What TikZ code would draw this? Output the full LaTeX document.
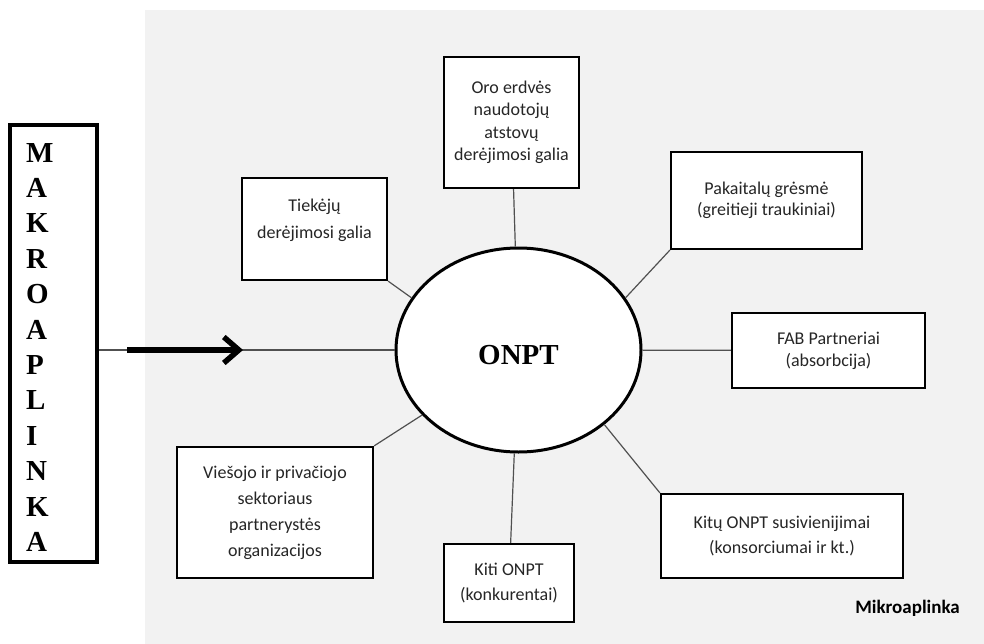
\documentclass[tikz,border=0pt]{standalone}
\usepackage{fontspec}
\newfontfamily\calibfont{Carlito}
\newfontfamily\timesfont{Liberation Serif}
\usetikzlibrary{arrows.meta,shapes.geometric}
\definecolor{bggray}{HTML}{F2F2F2}
\definecolor{linkgray}{HTML}{505050}
\definecolor{textgray}{HTML}{262626}

\begin{document}
\begin{tikzpicture}[x=1pt,y=-1pt,
  factor node/.style={draw,line width=2.2pt,fill=white,align=center,inner sep=0pt,text=textgray,font=\calibfont\fontsize{18}{#1}\selectfont},
  factor node/.default=25,
  center node/.style={ellipse,draw,line width=3pt,fill=white,minimum width=245pt,minimum height=204pt,inner sep=0pt,text height=30pt,font=\timesfont\bfseries\fontsize{29}{34}\selectfont},
  letters/.style={align=left,inner sep=0pt,font=\timesfont\bfseries\fontsize{29}{35.4}\selectfont},
  link/.style={draw=linkgray,line width=1.2pt}]

  \useasboundingbox (0,0) rectangle (984,644);
  \fill[bggray] (145,10) rectangle (984,644);

  \node[draw,line width=3.5pt,minimum width=87pt,minimum height=437pt] at (53.5,343.5) (makro) {};
  \node[letters,anchor=north west] at (26,143) (makrotxt) {M\\A\\K\\R\\O\\A\\P\\L\\I\\N\\K\\A};

  \node[center node] at (518.5,350) (onpt) {ONPT};

  \node[factor node=27,minimum width=145pt,minimum height=102pt] at (314.5,229) (tiek) {Tiekėjų\\derėjimosi galia\\[-6pt]\mbox{}};
  \node[factor node=22.5,minimum width=135pt,minimum height=131pt] at (511.5,122.5) (oro) {Oro erdvės\\naudotojų\\atstovų\\derėjimosi galia};
  \node[factor node=21,minimum width=191pt,minimum height=97pt] at (766.5,200.5) (pak) {Pakaitalų grėsmė\\(greitieji traukiniai)};
  \node[factor node=22,minimum width=193pt,minimum height=75pt] at (828.5,350.5) (fab) {FAB Partneriai\\(absorbcija)};
  \node[factor node=25,minimum width=242pt,minimum height=84pt] at (782,536) (kitu) {Kitų ONPT susivienijimai\\(konsorciumai ir kt.)};
  \node[factor node=25,minimum width=130pt,minimum height=78pt] at (509,583) (kiti) {Kiti ONPT\\(konkurentai)};
  \node[factor node=26,minimum width=196pt,minimum height=131pt] at (275,512.5) (vies) {Viešojo ir privačiojo\\sektoriaus\\partnerystės\\organizacijos};

  \node[anchor=base east,inner sep=0pt,font=\calibfont\bfseries\fontsize{19}{22}\selectfont] at (960,613) (mikro) {Mikroaplinka};

  % connectors
  \draw[link] (makro.east |- onpt.west) -- (onpt.west);
  \draw[link] (tiek.south east) -- (onpt.154);
  \draw[link] (oro) -- (onpt);
  \draw[link] (pak.south west) -- (onpt.26);
  \draw[link] (fab) -- (onpt);
  \draw[link] (kitu.north west) -- (onpt.-41);
  \draw[link] (kiti) -- (onpt);
  \draw[link] (vies.north east) -- (onpt.214);

  % input arrow
  \coordinate (arrtail) at (127,350);
  \coordinate (arrhead) at (243,350);
  \draw[line width=5.5pt,-{Straight Barb[length=15pt,width=26pt]}] (arrtail) -- (arrhead);
\end{tikzpicture}
\end{document}
